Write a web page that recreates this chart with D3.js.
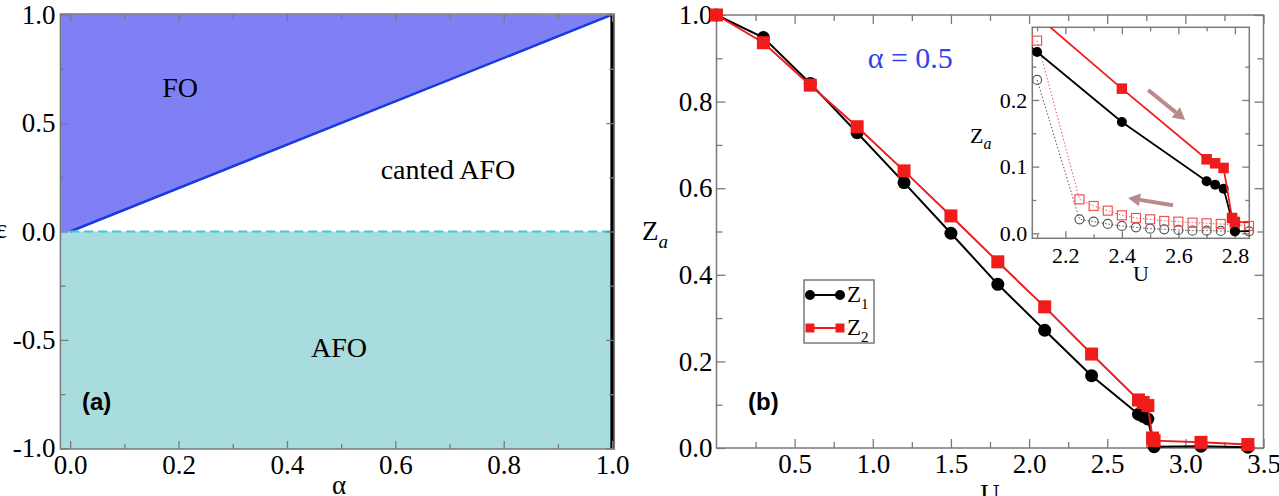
<!DOCTYPE html>
<html>
<head>
<meta charset="utf-8">
<script src="https://d3js.org/d3.v7.min.js"></script>
<style>
  body { margin: 0; background: #fff; }
  svg { display: block; }
  svg text { font-family: "Liberation Serif", "Times New Roman", Times, "DejaVu Serif", serif; }
  svg text.sans { font-family: "Liberation Sans", Arial, sans-serif; font-weight: bold; }
</style>
</head>
<body>
<svg id="fig" width="1279" height="496"></svg>
<script>
// ---- panel (a): phase diagram ----
const boundaryAlpha = [0, 1]        // FO / canted AFO boundary, eps = alpha
const boundaryEps = [0, 1]
const regionNames = ['FO', 'canted AFO', 'AFO']
const regionAlpha = [0.203, 0.697, 0.496]
const regionEps = [0.621, 0.242, -0.58]
const aXTicks = [0, 0.2, 0.4, 0.6, 0.8, 1.0]
const aYTicks = [-1, -0.5, 0, 0.5, 1]

// ---- panel (b): Z_a vs U, alpha = 0.5 ----
const u1 = [0, 0.3, 0.6, 0.9, 1.2, 1.5, 1.8, 2.1, 2.4, 2.7, 2.73, 2.76, 2.8, 3.1, 3.4]
const z1 = [1.0, 0.948, 0.842, 0.728, 0.613, 0.496, 0.378, 0.272, 0.167, 0.078, 0.073, 0.067, 0.003, 0.004, 0.002]
const u2 = [0, 0.3, 0.6, 0.9, 1.2, 1.5, 1.8, 2.1, 2.4, 2.7, 2.73, 2.76, 2.79, 2.8, 3.1, 3.4]
const z2 = [1.0, 0.936, 0.838, 0.742, 0.640, 0.536, 0.430, 0.326, 0.217, 0.111, 0.105, 0.098, 0.023, 0.017, 0.013, 0.008]
// decreasing-U branch (open symbols, inset only)
const uBack = [2.1, 2.25, 2.3, 2.35, 2.4, 2.45, 2.5, 2.55, 2.6, 2.65, 2.7, 2.75, 2.8, 2.85]
const z1Back = [0.230, 0.021, 0.0175, 0.014, 0.011, 0.009, 0.007, 0.006, 0.005, 0.004, 0.004, 0.0035, 0.003, 0.003]
const z2Back = [0.289, 0.051, 0.041, 0.034, 0.027, 0.023, 0.021, 0.0185, 0.0175, 0.016, 0.015, 0.014, 0.013, 0.011]
const bXTicks = [0.5, 1.0, 1.5, 2.0, 2.5, 3.0, 3.5]
const bYTicks = [0, 0.2, 0.4, 0.6, 0.8, 1.0]
const iXTicks = [2.2, 2.4, 2.6, 2.8]
const iYTicks = [0, 0.1, 0.2]
// arrows in inset (U, Z): tail -> tip
const arrowU = [[2.493, 2.624], [2.581, 2.422]]
const arrowZ = [[0.215, 0.170], [0.042, 0.053]]

const RED = '#f01c1c'
const FRAME = '#7a7a7a'

const svg = d3.select('#fig')
const defs = svg.append('defs')

const fmt = d => d.toFixed(1)

// four-sided inward ticks, labels only bottom/left
function frameAxes(g, x, y, o) {
  const [x0, x1] = x.range()
  const [y0, y1] = y.range()
  const sides = [
    {ax: d3.axisBottom, sc: x, t: `translate(0,${y0})`, maj: o.xMajor, min: o.xMinor, lab: true, pad: o.padX},
    {ax: d3.axisTop, sc: x, t: `translate(0,${y1})`, maj: o.xMajor, min: o.xMinor, lab: false},
    {ax: d3.axisLeft, sc: y, t: `translate(${x0},0)`, maj: o.yMajor, min: o.yMinor, lab: true, pad: o.padY},
    {ax: d3.axisRight, sc: y, t: `translate(${x1},0)`, maj: o.yMajor, min: o.yMinor, lab: false}
  ]
  sides.forEach(s => {
    const gm = g.append('g').attr('transform', s.t)
      .call(s.ax(s.sc).tickValues(s.min).tickSize(-o.minor).tickFormat(''))
    const gM = g.append('g').attr('transform', s.t)
      .call(s.ax(s.sc).tickValues(s.maj).tickSize(-o.major).tickPadding(s.pad || 0)
        .tickFormat(s.lab ? fmt : ''))
    ;[gm, gM].forEach(a => {
      a.select('.domain').remove()
      a.attr('color', FRAME).attr('font-family', null).attr('font-size', null)
      a.selectAll('line').attr('stroke-width', 1.3)
      a.selectAll('text').attr('fill', '#000').style('font-size', o.fontSize + 'px')
    })
  })
  g.append('rect')
    .attr('x', x0).attr('y', y1).attr('width', x1 - x0).attr('height', y0 - y1)
    .attr('fill', 'none').attr('stroke', FRAME).attr('stroke-width', 1.5)
}

// ================= panel (a) =================
const xa = d3.scaleLinear().domain([-0.018, 1.004]).range([60.4, 614.3])
const ya = d3.scaleLinear().domain([-1.003, 1.003]).range([449, 14])
const ga = svg.append('g')
const [axMin, axMax] = xa.domain()
const [ayMin, ayMax] = ya.domain()

// AFO region (eps < 0)
ga.append('rect')
  .attr('x', xa(axMin)).attr('y', ya(0))
  .attr('width', xa(axMax) - xa(axMin)).attr('height', ya(ayMin) - ya(0))
  .attr('fill', '#a9dcde')
// FO region above eps = alpha
const foPoly = [[axMin, 0], [boundaryAlpha[0], boundaryEps[0]], [boundaryAlpha[1], boundaryEps[1]], [axMin, ayMax]]
ga.append('path')
  .attr('d', d3.line().x(d => xa(d[0])).y(d => ya(d[1]))(foPoly) + 'Z')
  .attr('fill', '#8080f5')
// boundary line
ga.append('path')
  .attr('d', d3.line().x((d, i) => xa(boundaryAlpha[i])).y((d, i) => ya(boundaryEps[i]))(boundaryAlpha))
  .attr('stroke', '#1a38e2').attr('stroke-width', 2.5).attr('fill', 'none')
// dashed eps = 0 boundary
ga.append('line')
  .attr('x1', xa(0)).attr('x2', xa(1)).attr('y1', ya(0)).attr('y2', ya(0))
  .attr('stroke', '#3ccaca').attr('stroke-width', 2).attr('stroke-dasharray', '9,5')
// alpha = 1 line
ga.append('line')
  .attr('x1', xa(1)).attr('x2', xa(1)).attr('y1', ya(-1)).attr('y2', ya(1))
  .attr('stroke', '#000').attr('stroke-width', 3.5)

frameAxes(ga, xa, ya, {
  xMajor: aXTicks, xMinor: [0.1, 0.3, 0.5, 0.7, 0.9],
  yMajor: aYTicks, yMinor: [-0.75, -0.25, 0.25, 0.75],
  major: 8, minor: 5, padX: 6, padY: 5, fontSize: 27
})

ga.selectAll('.region').data(regionNames).enter()
  .append('text')
  .attr('x', (d, i) => xa(regionAlpha[i]))
  .attr('y', (d, i) => ya(regionEps[i]))
  .attr('text-anchor', 'middle')
  .style('font-size', '28px')
  .text(d => d)
ga.append('text').text('(a)').attr('class', 'sans')
  .attr('x', xa(0.049)).attr('y', ya(-0.824)).attr('text-anchor', 'middle')
  .style('font-size', '24px')
ga.append('text').text('α')
  .attr('x', xa(0.496)).attr('y', 494).attr('text-anchor', 'middle')
  .style('font-size', '27px')
ga.append('text').text('ε')
  .attr('x', 7).attr('y', 238).attr('text-anchor', 'end')
  .style('font-size', '27px')

// ================= panel (b) =================
const xb = d3.scaleLinear().domain([0, 3.5]).range([716.5, 1263.5])
const yb = d3.scaleLinear().domain([0, 1]).range([448, 15])
const gb = svg.append('g')

frameAxes(gb, xb, yb, {
  xMajor: bXTicks, xMinor: d3.range(0.25, 3.5, 0.5),
  yMajor: bYTicks, yMinor: [0.1, 0.3, 0.5, 0.7, 0.9],
  major: 9, minor: 6, padX: 6, padY: 4, fontSize: 27
})

function drawSeries(g, x, y, us, zs, o) {
  const pts = us.map((u, i) => [u, zs[i]])
  const lineG = o.clip ? g.append('g').attr('clip-path', `url(#${o.clip})`) : g
  lineG.append('path')
    .attr('d', d3.line().x(d => x(d[0])).y(d => y(d[1]))(pts))
    .attr('fill', 'none').attr('stroke', o.color).attr('stroke-width', o.lw)
    .attr('stroke-dasharray', o.dash || null)
  const [lo, hi] = y.domain()
  const vis = pts.filter(d => d[1] >= lo && d[1] <= hi)
  const fill = o.open ? 'none' : o.color
  if (o.shape === 'circle') {
    g.selectAll(null).data(vis).enter().append('circle')
      .attr('cx', d => x(d[0])).attr('cy', d => y(d[1])).attr('r', o.size)
      .attr('fill', fill).attr('stroke', o.color).attr('stroke-width', o.open ? 1.2 : 0)
  } else {
    g.selectAll(null).data(vis).enter().append('rect')
      .attr('x', d => x(d[0]) - o.size / 2).attr('y', d => y(d[1]) - o.size / 2)
      .attr('width', o.size).attr('height', o.size)
      .attr('fill', fill).attr('stroke', o.color).attr('stroke-width', o.open ? 1.2 : 0)
  }
}

drawSeries(gb, xb, yb, u1, z1, {color: '#000', lw: 2, shape: 'circle', size: 6.5})
drawSeries(gb, xb, yb, u2, z2, {color: RED, lw: 2, shape: 'square', size: 13})

gb.append('text')
  .attr('x', 642).attr('y', 240)
  .style('font-size', '27px')
  .call(t => {
    t.append('tspan').text('Z')
    t.append('tspan').text('a').attr('font-style', 'italic').style('font-size', '19px').attr('dy', 8)
  })
gb.append('text').text('U')
  .attr('x', xb(1.75)).attr('y', 503).attr('text-anchor', 'middle')
  .style('font-size', '27px')
gb.append('text').text('α = 0.5')
  .attr('x', xb(1.24)).attr('y', yb(0.878)).attr('text-anchor', 'middle')
  .style('font-size', '30px').attr('fill', '#3441ee')
gb.append('text').text('(b)').attr('class', 'sans')
  .attr('x', xb(0.3)).attr('y', yb(0.088)).attr('text-anchor', 'middle')
  .style('font-size', '24px')

// legend
const leg = gb.append('g')
leg.append('rect').attr('x', 804).attr('y', 280).attr('width', 70).attr('height', 63)
  .attr('fill', '#fff').attr('stroke', FRAME).attr('stroke-width', 1.5)
const legItems = [
  {name: '1', color: '#000', shape: 'circle', cy: 295},
  {name: '2', color: RED, shape: 'square', cy: 328}
]
legItems.forEach(it => {
  leg.append('line').attr('x1', 810).attr('x2', 840).attr('y1', it.cy).attr('y2', it.cy)
    .attr('stroke', it.color).attr('stroke-width', 2)
  ;[810, 840].forEach(cx => {
    if (it.shape === 'circle') {
      leg.append('circle').attr('cx', cx).attr('cy', it.cy).attr('r', 5).attr('fill', it.color)
    } else {
      leg.append('rect').attr('x', cx - 4.5).attr('y', it.cy - 4.5).attr('width', 9).attr('height', 9).attr('fill', it.color)
    }
  })
  leg.append('text').attr('x', 847).attr('y', it.cy + 7)
    .style('font-size', '23px')
    .call(t => {
      t.append('tspan').text('Z')
      t.append('tspan').text(it.name).style('font-size', '15px').attr('dy', 7)
    })
})

// ================= inset =================
const xi = d3.scaleLinear().domain([2.083, 2.851]).range([1032.3, 1249.3])
const yi = d3.scaleLinear().domain([-0.0075, 0.309]).range([238.3, 27.3])
const gi = svg.append('g')
gi.append('rect')
  .attr('x', xi.range()[0]).attr('y', yi.range()[1])
  .attr('width', xi.range()[1] - xi.range()[0]).attr('height', yi.range()[0] - yi.range()[1])
  .attr('fill', '#fff')
defs.append('clipPath').attr('id', 'insetClip').append('rect')
  .attr('x', xi.range()[0]).attr('y', yi.range()[1])
  .attr('width', xi.range()[1] - xi.range()[0]).attr('height', yi.range()[0] - yi.range()[1])

frameAxes(gi, xi, yi, {
  xMajor: iXTicks, xMinor: [2.1, 2.3, 2.5, 2.7],
  yMajor: iYTicks, yMinor: [0.05, 0.15, 0.25],
  major: 7, minor: 4, padX: 9, padY: 5, fontSize: 22
})

drawSeries(gi, xi, yi, uBack, z1Back, {color: '#555', lw: 1, dash: '1.5,2', shape: 'circle', size: 4.5, open: true, clip: 'insetClip'})
drawSeries(gi, xi, yi, uBack, z2Back, {color: '#ee5555', lw: 1, dash: '1.5,2', shape: 'square', size: 9, open: true, clip: 'insetClip'})
drawSeries(gi, xi, yi, u1, z1, {color: '#000', lw: 1.8, shape: 'circle', size: 5, clip: 'insetClip'})
drawSeries(gi, xi, yi, u2, z2, {color: RED, lw: 1.8, shape: 'square', size: 10.5, clip: 'insetClip'})

// arrows
const ARROW = '#b88a8a'
arrowU.forEach((au, k) => {
  const x0 = xi(au[0]), y0 = yi(arrowZ[k][0]), x1 = xi(au[1]), y1 = yi(arrowZ[k][1])
  const ang = Math.atan2(y1 - y0, x1 - x0)
  const hl = 12, hw = 6.5
  const bx = x1 - hl * Math.cos(ang), by = y1 - hl * Math.sin(ang)
  gi.append('line').attr('x1', x0).attr('y1', y0).attr('x2', bx).attr('y2', by)
    .attr('stroke', ARROW).attr('stroke-width', 4)
  gi.append('path')
    .attr('d', `M${x1},${y1}L${bx - hw * Math.sin(ang)},${by + hw * Math.cos(ang)}L${bx + hw * Math.sin(ang)},${by - hw * Math.cos(ang)}Z`)
    .attr('fill', ARROW)
})

gi.append('text')
  .attr('x', 970).attr('y', 143)
  .style('font-size', '22px')
  .call(t => {
    t.append('tspan').text('Z')
    t.append('tspan').text('a').attr('font-style', 'italic').style('font-size', '16px').attr('dy', 6)
  })
gi.append('text').text('U')
  .attr('x', 1141).attr('y', 281).attr('text-anchor', 'middle')
  .style('font-size', '22px')
</script>
</body>
</html>
